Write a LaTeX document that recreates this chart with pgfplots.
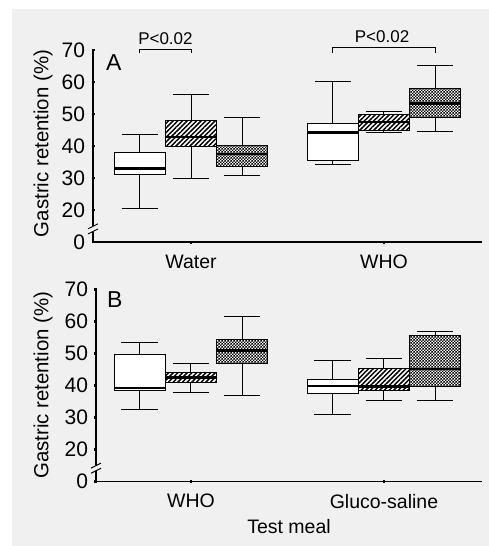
\documentclass[border=0pt]{standalone}
\usepackage{pgfplots}
\pgfplotsset{compat=1.18}
\usetikzlibrary{patterns,patterns.meta}
\usepackage{fontspec}
\setmainfont{Liberation Sans}
\definecolor{bgc}{HTML}{F0F0F0}

% small black/white checkerboard for the third box of each group
\pgfdeclarepatternformonly{checker}{\pgfpointorigin}{\pgfqpoint{3.2pt}{3.2pt}}{\pgfqpoint{3.2pt}{3.2pt}}{%
  \pgfpathrectangle{\pgfpointorigin}{\pgfqpoint{1.8pt}{1.8pt}}%
  \pgfpathrectangle{\pgfqpoint{1.6pt}{1.6pt}}{\pgfqpoint{1.8pt}{1.8pt}}%
  \pgfusepath{fill}%
}

\pgfplotsset{
  panel/.style={
    scale only axis, height=192pt,
    axis x line=bottom, axis y line=left,
    axis line style={line width=1.1pt, -},
    ymin=10, ymax=70,
    ytick={10,20,30,40,50,60,70},
    yticklabels={0,20,30,40,50,60,70},
    xtick={1,2},
    tick align=center, major tick length=3pt,
    every tick/.style={black, line width=2.4pt},
    yticklabel style={font=\fontsize{21}{24}\selectfont, xshift=-3pt},
    xticklabel style={font=\fontsize{19.5}{22}\selectfont, yshift=-8pt},
    ylabel style={font=\fontsize{20.4}{23}\selectfont},
    xlabel style={font=\fontsize{19.5}{22}\selectfont},
    clip=false,
  },
  hatch/.style={postaction={pattern={Lines[angle=45,distance=3.3pt,line width=1.5pt]}}},
  check/.style={postaction={pattern=checker}},
}

% one box: position, lower whisker, lower quartile, median, upper quartile, upper whisker, fill style
\newcommand\gbox[7]{%
  \pgfmathsetmacro\xa{#1-0.1325}\pgfmathsetmacro\xb{#1+0.1325}%
  \pgfmathsetmacro\ca{#1-0.095}\pgfmathsetmacro\cb{#1+0.095}%
  \addplot[black, line width=1pt, unbounded coords=jump] coordinates {
    (#1,#5) (#1,#6) (nan,nan) (\ca,#6) (\cb,#6) (nan,nan)
    (#1,#3) (#1,#2) (nan,nan) (\ca,#2) (\cb,#2)};
  \addplot[black, line width=1.1pt, fill=white, #7] coordinates {(\xa,#3) (\xa,#5) (\xb,#5) (\xb,#3)} -- cycle;
  \addplot[black, line width=2.6pt] coordinates {(\xa,#4) (\xb,#4)};
}

\newcommand\ybreak[1]{%
  \fill[bgc] ([xshift=-2pt]axis cs:#1,13.2) rectangle ([xshift=2pt]axis cs:#1,15.0);
  \draw[line width=0.9pt] ([xshift=-5pt,yshift=-2.5pt]axis cs:#1,14.9) -- ([xshift=5pt,yshift=2.5pt]axis cs:#1,14.9);
  \draw[line width=0.9pt] ([xshift=-5pt,yshift=-2.5pt]axis cs:#1,13.3) -- ([xshift=5pt,yshift=2.5pt]axis cs:#1,13.3);
}

\begin{document}
\begin{tikzpicture}
\fill[white] (0pt,0pt) rectangle (489pt,-546pt);
\fill[bgc] (12pt,-9pt) rectangle (489pt,-546pt);

% panel A
\begin{axis}[panel, at={(93pt,-242pt)}, anchor=south west, width=389pt,
    xmin=0.492, xmax=2.508,
    xticklabels={Water,WHO},
    ylabel={Gastric retention (\%)},
    ylabel style={at={(axis description cs:-0.1285,0.513)}, anchor=center},
  ]
  \gbox{0.735}{20.6}{31.1}{32.9}{38.0}{43.6}{}
  \gbox{1.0}{30.0}{39.8}{42.8}{48.0}{56.0}{hatch}
  \gbox{1.265}{30.8}{33.5}{37.5}{40.1}{48.9}{check}
  \gbox{1.735}{34.2}{35.5}{44.2}{47.1}{60.2}{}
  \gbox{2.0}{44.2}{44.8}{47.5}{49.9}{50.8}{hatch}
  \gbox{2.265}{44.4}{48.8}{53.2}{58.1}{65.2}{check}
  \ybreak{0.492}
  \draw[line width=0.9pt] (axis cs:0.735,69.06) |- (axis cs:1.0,70.3) -- (axis cs:1.0,69.06);
  \node[anchor=base, inner sep=0pt, font=\fontsize{17}{20}\selectfont] at ([yshift=4.7pt]axis cs:0.8675,70.3) {P<0.02};
  \draw[line width=0.9pt] (axis cs:1.735,69.06) |- (axis cs:2.265,70.84) -- (axis cs:2.265,69.06);
  \node[anchor=base, inner sep=0pt, font=\fontsize{17}{20}\selectfont] at ([yshift=4.5pt]axis cs:1.99,70.84) {P<0.02};
  \node[anchor=base west, inner sep=0pt, font=\fontsize{23}{26}\selectfont] at (axis cs:0.559,63.75) {A};
\end{axis}

% panel B
\begin{axis}[panel, at={(96pt,-481.3pt)}, anchor=south west, width=386pt,
    xmin=0.508, xmax=2.508,
    xticklabels={WHO,Gluco-saline},
    ylabel={Gastric retention (\%)},
    ylabel style={at={(axis description cs:-0.137,0.5)}, anchor=center},
    xlabel={Test meal},
    xlabel style={at={(axis description cs:0.5,0)}, anchor=center, yshift=-45.5pt},
  ]
  \gbox{0.735}{32.5}{38.3}{39.2}{49.5}{53.5}{}
  \gbox{1.0}{37.7}{41.0}{42.5}{44.0}{46.7}{hatch}
  \gbox{1.265}{36.7}{46.9}{50.8}{54.4}{61.5}{check}
  \gbox{1.735}{31.0}{37.3}{39.8}{41.8}{47.7}{}
  \gbox{2.0}{35.4}{38.3}{39.6}{45.3}{48.4}{hatch}
  \gbox{2.265}{35.1}{39.6}{45.1}{55.5}{56.7}{check}
  \ybreak{0.508}
  \node[anchor=base west, inner sep=0pt, font=\fontsize{23}{26}\selectfont] at (axis cs:0.565,64.4) {B};
\end{axis}

\pgfresetboundingbox
\path (0pt,0pt) rectangle (489pt,-546pt);
\end{tikzpicture}
\end{document}
